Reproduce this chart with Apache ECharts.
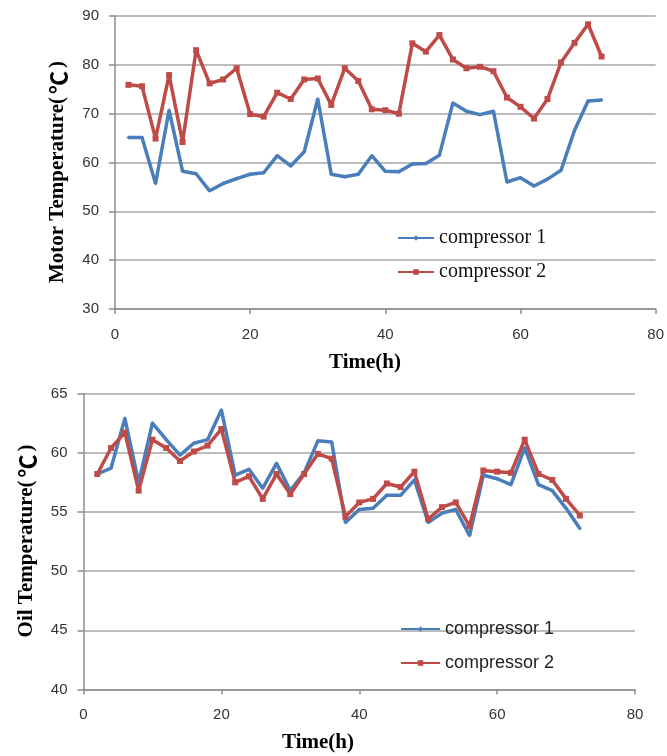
<!DOCTYPE html>
<html>
<head>
<meta charset="utf-8">
<script src="https://cdn.jsdelivr.net/npm/echarts@6/dist/echarts.min.js"></script>
<style>html,body{margin:0;padding:0;background:#fff}#c{width:667px;height:756px}</style>
</head>
<body>
<div id="c"></div>
<script>
const hours = [2,4,6,8,10,12,14,16,18,20,22,24,26,28,30,32,34,36,38,40,42,44,46,48,50,52,54,56,58,60,62,64,66,68,70,72];
const motorC1 = [65.1,65.1,55.7,70.7,58.2,57.7,54.2,55.7,56.7,57.6,57.9,61.4,59.3,62.2,73.0,57.6,57.1,57.6,61.4,58.2,58.1,59.7,59.8,61.5,72.2,70.5,69.8,70.5,56.0,56.9,55.2,56.6,58.4,66.6,72.6,72.8];
const motorC2 = [75.9,75.6,64.9,77.9,64.2,83.0,76.2,77.0,79.3,69.9,69.4,74.3,73.0,77.0,77.2,71.8,79.3,76.7,70.9,70.7,70.0,84.4,82.7,86.1,81.1,79.3,79.6,78.7,73.3,71.4,69.0,73.0,80.5,84.5,88.3,81.7];
const oilC1 = [58.2,58.7,62.9,57.5,62.5,61.1,59.8,60.8,61.1,63.6,58.1,58.6,57.0,59.1,56.8,58.3,61.0,60.9,54.1,55.2,55.3,56.4,56.4,57.7,54.1,54.9,55.2,53.0,58.1,57.8,57.3,60.4,57.3,56.8,55.3,53.6];
const oilC2 = [58.2,60.4,61.7,56.8,61.1,60.4,59.3,60.1,60.6,62.0,57.5,58.0,56.1,58.2,56.5,58.2,59.9,59.5,54.6,55.8,56.1,57.4,57.1,58.4,54.4,55.4,55.8,53.8,58.5,58.4,58.3,61.1,58.2,57.7,56.1,54.7];
const seriesNames = ['compressor 1','compressor 2'];
const xTitle = 'Time(h)';
const yTitleTop = ['Motor Temperature(', '℃', ')'];
const yTitleBottom = ['Oil Temperature(', '℃', ')'];

const pair = (xs, ys) => xs.map((x, i) => [x, ys[i]]);
const BLUE = '#4A7EBB', RED = '#BE4B48';
const axisGray = '#8c8c8c', gridGray = '#a6a6a6';
const labelStyle = {color: '#333', fontFamily: 'Liberation Sans, Arial, sans-serif', fontSize: 15};

function xAxis(gi){
  return {type:'value', gridIndex: gi, min:0, max:80, interval:20,
    axisLine:{show:true, lineStyle:{color:axisGray, width:1.5}},
    axisTick:{show:true, length:5, lineStyle:{color:axisGray, width:1.5}},
    axisLabel:Object.assign({margin:18}, labelStyle),
    splitLine:{show:false}};
}
function yAxis(gi, min, max, interval){
  return {type:'value', gridIndex: gi, min:min, max:max, interval:interval,
    axisLine:{show:true, lineStyle:{color:axisGray, width:1.5}},
    axisTick:{show:true, length:6, lineStyle:{color:axisGray, width:1.5}},
    axisLabel:Object.assign({margin:16}, labelStyle),
    splitLine:{show:true, lineStyle:{color:gridGray, width:1.5}}};
}
function line(name, gi, data, color, sym, size){
  return {name:name, type:'line', xAxisIndex:gi, yAxisIndex:gi, data:data,
    symbol:sym, symbolSize:size, showSymbol:true,
    lineStyle:{color:color, width:3.5}, itemStyle:{color:color},
    animation:false};
}
function titleRich(parts, x, y){
  return {type:'text', x:x, y:y, rotation:Math.PI/2,
    style:{text:'{a|' + parts[0] + '}{b|' + parts[1] + '}{a|' + parts[2] + '}',
      align:'center', verticalAlign:'middle',
      rich:{
        a:{font:'bold 21px "Liberation Serif", serif', fill:'#000'},
        b:{font:'bold 23px "Noto Sans CJK SC", sans-serif', fill:'#000', padding:[0,3,0,3]}
      }}};
}

const chart = echarts.init(document.getElementById('c'), null, {renderer:'canvas'});
chart.setOption({
  animation:false,
  grid:[
    {left:115, right:10, top:16, height:293, containLabel:false},
    {left:83.5, right:32, top:393.5, height:296, containLabel:false}
  ],
  xAxis:[xAxis(0), xAxis(1)],
  yAxis:[yAxis(0,30,90,10), yAxis(1,40,65,5)],
  legend:[
    {orient:'vertical', left:397, top:228, padding:0, itemWidth:36, itemHeight:7, itemGap:14,
     data:seriesNames,
     textStyle:{fontFamily:'Liberation Serif, Times New Roman, serif', fontSize:20, lineHeight:14, color:'#111'}},
    {orient:'vertical', left:400, top:620, padding:0, itemWidth:39, itemHeight:7, itemGap:16,
     data:seriesNames,
     textStyle:{fontFamily:'Liberation Sans, Arial, sans-serif', fontSize:18, lineHeight:14, color:'#222'}}
  ],
  series:[
    line(seriesNames[0], 0, pair(hours, motorC1), BLUE, 'diamond', 4),
    line(seriesNames[1], 0, pair(hours, motorC2), RED, 'rect', 6),
    line(seriesNames[0], 1, pair(hours, oilC1), BLUE, 'diamond', 4),
    line(seriesNames[1], 1, pair(hours, oilC2), RED, 'rect', 6)
  ],
  graphic:[
    {type:'text', x:365, y:363, style:{text:xTitle, font:'bold 21px "Liberation Serif", serif', fill:'#000', align:'center', verticalAlign:'middle'}},
    {type:'text', x:318, y:743, style:{text:xTitle, font:'bold 21px "Liberation Serif", serif', fill:'#000', align:'center', verticalAlign:'middle'}},
    titleRich(yTitleTop, 58, 172),
    titleRich(yTitleBottom, 27, 541)
  ]
});
</script>
</body>
</html>
